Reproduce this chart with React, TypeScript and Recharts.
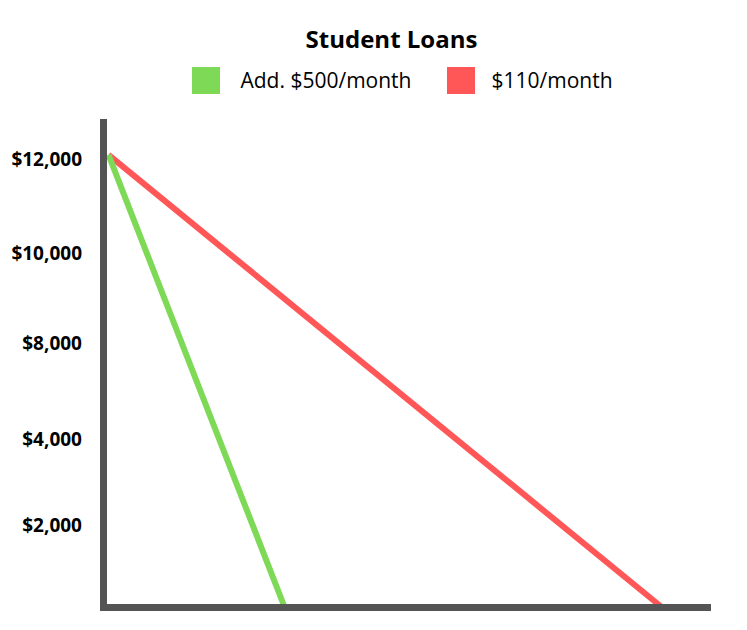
import React from 'react';
import { LineChart, Line, XAxis, YAxis, Legend } from 'recharts';

// balance over time
const extraPayMonths = [1, 36];
const extraPayBalance = [12000, 0];
const basePayMonths = [1, 111];
const basePayBalance = [12000, 0];

// the y labels in the original are evenly spaced but not linear
const yTickValues = [11890, 9400, 7000, 4470, 2170];
const yTickLabels = ['$12,000', '$10,000', '$8,000', '$4,000', '$2,000'];

const seriesNames = ['Add. $500/month', '$110/month'];
const COLORS = ['#7ed957', '#ff5757'];
const AXIS = '#545454';

const toPoints = (months: number[], balance: number[]) =>
  months.map((m, i) => ({ month: m, balance: balance[i] }));

const extraData = toPoints(extraPayMonths, extraPayBalance);
const baseData = toPoints(basePayMonths, basePayBalance);

const HeaderLegend = () => (
  <div style={{ width: 747, fontFamily: '"Open Sans", sans-serif', color: '#000' }}>
    <div style={{ paddingLeft: 36, paddingTop: 24, textAlign: 'center', fontSize: 24, fontWeight: 700, lineHeight: '30px' }}>
      Student Loans
    </div>
    <div style={{ display: 'flex', justifyContent: 'center', alignItems: 'center', paddingLeft: 58, marginTop: 13 }}>
      {seriesNames.map((name, i) => (
        <div key={name} style={{ display: 'flex', alignItems: 'center', marginRight: i === 0 ? 36 : 0 }}>
          <div style={{ width: 28, height: 27, backgroundColor: COLORS[i], marginRight: i === 0 ? 20 : 16 }} />
          <span style={{ fontSize: 21, lineHeight: '27px' }}>{name}</span>
        </div>
      ))}
    </div>
  </div>
);

const App: React.FC = () => {
  return (
    <div style={{ position: 'absolute', left: 0, top: 0, width: 747, height: 630, background: '#fff', fontFamily: '"Open Sans", sans-serif' }}>
      <LineChart width={747} height={630} margin={{ top: 122.5, right: 39.5, left: 0, bottom: 21.5 }}>
        <Legend
          verticalAlign="middle"
          content={() => <HeaderLegend />}
          wrapperStyle={{ top: 0, left: 0, width: 747 }}
        />
        <XAxis
          type="number"
          dataKey="month"
          domain={[0, 120]}
          height={1}
          tick={false}
          tickLine={false}
          axisLine={{ stroke: AXIS, strokeWidth: 7, strokeLinecap: 'square' }}
        />
        <YAxis
          type="number"
          dataKey="balance"
          domain={[0, 12860]}
          width={103.5}
          ticks={yTickValues}
          tickFormatter={(v: number) => yTickLabels[yTickValues.indexOf(v)] ?? ''}
          tickLine={false}
          tickSize={6}
          tickMargin={15.5}
          tick={{ fill: '#000', fontSize: 19, fontWeight: 700 }}
          axisLine={{ stroke: AXIS, strokeWidth: 7, strokeLinecap: 'square' }}
        />
        <Line
          data={baseData}
          dataKey="balance"
          name={seriesNames[1]}
          stroke={COLORS[1]}
          strokeWidth={6}
          dot={false}
          isAnimationActive={false}
        />
        <Line
          data={extraData}
          dataKey="balance"
          name={seriesNames[0]}
          stroke={COLORS[0]}
          strokeWidth={6}
          dot={false}
          isAnimationActive={false}
        />
      </LineChart>
    </div>
  );
};

export default App;
